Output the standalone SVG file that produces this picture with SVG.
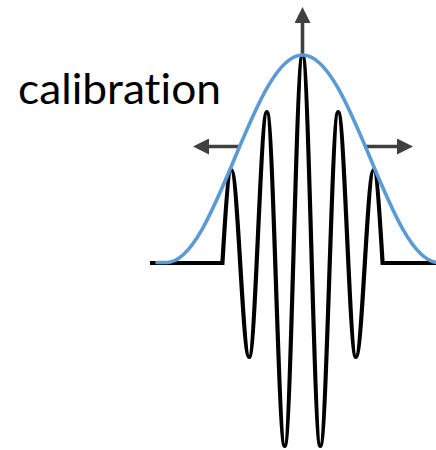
<svg xmlns="http://www.w3.org/2000/svg" width="436" height="450" viewBox="0 0 436 450">
  <style>
    .wave { fill: none; stroke: #000000; stroke-width: 4.2; stroke-linejoin: miter; }
    .env { fill: none; stroke: #5B9BD5; stroke-width: 3.6; stroke-linecap: round; }
    .arrow { fill: none; stroke: #404040; stroke-width: 3.6; }
    .label { font-family: "Lato", "Liberation Sans", sans-serif; font-size: 43px; fill: #000000; font-variant-ligatures: none; font-feature-settings: "liga" 0, "clig" 0; }
  </style>
  <defs>
    <marker id="head" viewBox="0 0 16 16" refX="1" refY="8" markerWidth="16" markerHeight="16" markerUnits="userSpaceOnUse" orient="auto">
      <path d="M0,0 L16,8 L0,16 Z" fill="#404040"/>
    </marker>
  </defs>
  <rect width="436" height="450" fill="#ffffff"/>
  <g id="label">
    <text class="label" x="18" y="104" textLength="203" lengthAdjust="spacingAndGlyphs">calibration</text>
  </g>
  <g id="wave">
    <path class="wave" d="M150,263 H222.4 C225.3,215.3 228.1,170 231.3,170 C237.8,170 242.6,357 249.1,357 C255.6,357 260.4,112 266.9,112 C273.4,112 278.2,446 284.7,446 C291.2,446 296,55 302.5,55 C309,55 313.8,446 320.3,446 C326.8,446 331.6,112 338.1,112 C344.6,112 349.4,357 355.9,357 C362.4,357 367.2,170 373.7,170 C376.9,170 379.7,215.3 382.6,263 H436"/>
  </g>
  <g id="connectors">
    <line class="arrow" x1="302.5" y1="56" x2="302.5" y2="22" marker-end="url(#head)"/>
    <line class="arrow" x1="241" y1="146.5" x2="208" y2="146.5" marker-end="url(#head)"/>
    <line class="arrow" x1="364" y1="146.5" x2="398" y2="146.5" marker-end="url(#head)"/>
  </g>
  <g id="envelope">
    <path class="env" d="M157,262.5 H166.5 C216,262.5 253,55 302.5,55 C352,55 389,262.5 438.5,262.5"/>
  </g>
</svg>
